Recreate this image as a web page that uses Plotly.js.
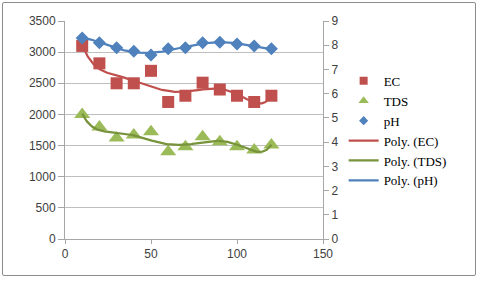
<!DOCTYPE html>
<html><head><meta charset="utf-8">
<script src="https://cdn.plot.ly/plotly-3.0.1.min.js"></script>
<style>
html,body{margin:0;padding:0;background:#fff;}
#wrap{position:relative;width:480px;height:282px;}
#frame{position:absolute;left:2px;top:2px;width:474px;height:274px;border:1px solid #8c8c8c;border-radius:2px;box-sizing:border-box;pointer-events:none;z-index:5;}
#chart{position:absolute;left:0;top:0;width:480px;height:282px;}
</style></head>
<body><div id="wrap"><div id="chart"></div><div id="frame"></div></div>
<script>
const xVals = [10, 20, 30, 40, 50, 60, 70, 80, 90, 100, 110, 120];
const ecVals = [3100, 2820, 2500, 2500, 2700, 2200, 2300, 2510, 2400, 2300, 2200, 2300];
const tdsVals = [2000, 1800, 1620, 1670, 1720, 1400, 1480, 1640, 1560, 1480, 1430, 1510];
const phVals = [8.3, 8.1, 7.9, 7.75, 7.6, 7.85, 7.9, 8.1, 8.12, 8.05, 7.97, 7.85];
const seriesNames = ['EC', 'TDS', 'pH'];
const polyOrder = 6;

function polyFit(xs, ys, deg) {
  const n = deg + 1, c = 65, s = 55, A = [];
  for (let i = 0; i < n; i++) A.push(new Array(n + 1).fill(0));
  xs.forEach((x, k) => {
    const t = (x - c) / s; const p = [];
    for (let i = 0; i < n; i++) p.push(Math.pow(t, i));
    for (let i = 0; i < n; i++) {
      for (let j = 0; j < n; j++) A[i][j] += p[i] * p[j];
      A[i][n] += p[i] * ys[k];
    }
  });
  for (let i = 0; i < n; i++) {
    let m = i;
    for (let r = i + 1; r < n; r++) if (Math.abs(A[r][i]) > Math.abs(A[m][i])) m = r;
    [A[i], A[m]] = [A[m], A[i]];
    for (let r = 0; r < n; r++) {
      if (r === i) continue;
      const f = A[r][i] / A[i][i];
      for (let j = i; j <= n; j++) A[r][j] -= f * A[i][j];
    }
  }
  const coef = A.map((row, i) => row[n] / row[i]);
  return x => { const t = (x - c) / s; let v = 0; for (let i = n - 1; i >= 0; i--) v = v * t + coef[i]; return v; };
}
const dense = [];
for (let x = xVals[0]; x <= xVals[xVals.length - 1] + 1e-9; x += 0.5) dense.push(x);
const fEC = polyFit(xVals, ecVals, polyOrder);
const fTDS = polyFit(xVals, tdsVals, polyOrder);
const fPH = polyFit(xVals, phVals, polyOrder);

const RED = '#C0504D', GREEN = '#9BBB59', GREEN_D = '#77933C', BLUE = '#4F81BD';
const traces = [
  {x: [null], y: [null], name: seriesNames[0], mode: 'markers', type: 'scatter',
   marker: {symbol: 'square', size: 8, color: RED}},
  {x: [null], y: [null], name: seriesNames[1], mode: 'markers', type: 'scatter',
   marker: {symbol: 'triangle-up', size: 9, color: GREEN}},
  {x: [null], y: [null], name: seriesNames[2], mode: 'markers', type: 'scatter',
   marker: {symbol: 'diamond', size: 7, color: BLUE}},
  {x: xVals, y: ecVals, name: seriesNames[0], mode: 'markers', type: 'scatter', showlegend: false,
   marker: {symbol: 'square', size: 12, color: RED}},
  {x: xVals, y: tdsVals, name: seriesNames[1], mode: 'markers', type: 'scatter', showlegend: false,
   marker: {symbol: 'triangle-up', size: 14, color: GREEN}},
  {x: xVals, y: phVals, name: seriesNames[2], mode: 'markers', type: 'scatter', yaxis: 'y2', showlegend: false,
   marker: {symbol: 'diamond', size: 10, color: BLUE}},
  {x: dense, y: dense.map(fEC), name: 'Poly. (EC)', mode: 'lines', type: 'scatter',
   line: {color: RED, width: 2.25}},
  {x: dense, y: dense.map(fTDS), name: 'Poly. (TDS)', mode: 'lines', type: 'scatter',
   line: {color: GREEN_D, width: 2.25}},
  {x: dense, y: dense.map(fPH), name: 'Poly. (pH)', mode: 'lines', type: 'scatter', yaxis: 'y2',
   line: {color: BLUE, width: 2.25}}
];
const tickFont = {family: 'Liberation Sans, Arial, sans-serif', size: 12, color: '#404040'};
const layout = {
  width: 480, height: 282,
  margin: {l: 65, r: 157, t: 21, b: 43, pad: 0},
  paper_bgcolor: '#fff', plot_bgcolor: '#fff',
  showlegend: true,
  legend: {x: 1.08, xanchor: 'left', y: 0.794, yanchor: 'top',
    font: {family: 'Liberation Serif, Times New Roman, serif', size: 13, color: '#000'},
    tracegroupgap: 0, itemwidth: 30, bgcolor: 'rgba(0,0,0,0)'},
  xaxis: {range: [0, 150], dtick: 50, tick0: 0, showgrid: false, zeroline: false,
    showline: true, linecolor: '#A6A6A6', linewidth: 1,
    ticks: 'outside', ticklen: 4, tickcolor: '#A6A6A6', tickfont: tickFont, fixedrange: true},
  yaxis: {range: [0, 3500], dtick: 500, tick0: 0, showgrid: true, gridcolor: '#BFBFBF', gridwidth: 1,
    zeroline: false, showline: true, linecolor: '#A6A6A6', linewidth: 1,
    ticks: 'outside', ticklen: 6, tickcolor: '#A6A6A6', tickfont: tickFont, fixedrange: true},
  yaxis2: {range: [0, 9], dtick: 1, tick0: 0, overlaying: 'y', side: 'right', showgrid: false,
    zeroline: false, showline: true, linecolor: '#A6A6A6', linewidth: 1,
    ticks: 'outside', ticklen: 5, tickcolor: '#A6A6A6', tickfont: tickFont, fixedrange: true}
};
Plotly.newPlot('chart', traces, layout, {displayModeBar: false, staticPlot: true});
</script></body></html>
